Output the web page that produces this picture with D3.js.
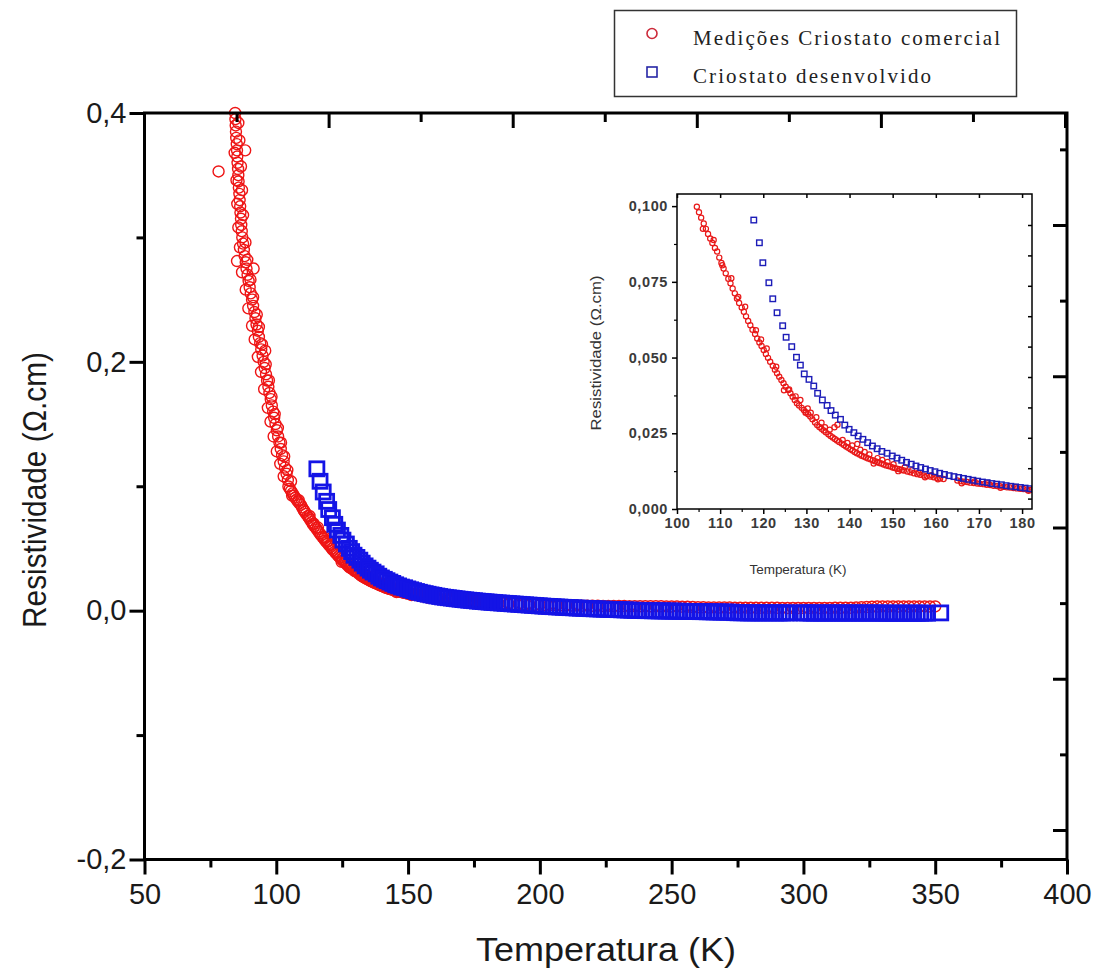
<!DOCTYPE html>
<html><head><meta charset="utf-8">
<script src="https://cdn.jsdelivr.net/npm/d3@7"></script>
<style>
body{margin:0;background:#fff}
svg{display:block}
</style>
</head><body>
<svg id="chart" width="1099" height="974"></svg>
<script>
// ---------- DATA (temperature K, resistivity ohm.cm) ----------
const redSteep = [[78.1,.353],[84.4,.400],[84.5,.395],[84.6,.390],[84.7,.385],[84.8,.380],[85.0,.375],[85.1,.370],[85.2,.365],[85.3,.360],[85.5,.355],[85.6,.350],[85.7,.345],[85.8,.340],[86.0,.335],[86.1,.330],[86.3,.325],[86.4,.320],[86.6,.315],[86.7,.310],[86.9,.305],[87.1,.300],[87.4,.295],[87.7,.290],[88.0,.285],[88.4,.280],[88.7,.275],[89.1,.270],[89.5,.265],[89.9,.260],[90.3,.255],[90.8,.250],[91.2,.245],[91.7,.240],[92.1,.235],[92.5,.230],[93.0,.225],[93.4,.220],[93.9,.215],[94.3,.210],[94.8,.205],[95.2,.200],[95.6,.195],[96.1,.190],[96.5,.185],[97.0,.180],[97.4,.175],[97.9,.170],[98.3,.165],[98.8,.160],[99.2,.155],[99.7,.150],[100.2,.145],[100.7,.140],[101.2,.135],[101.7,.130],[102.2,.125],[102.8,.120],[103.3,.115],[103.9,.110],[104.4,.105],[88.2,.370],[85.1,.281],[91.4,.275],[95.8,.209]];
const redSteepScatter = [[85.6,.392],[86.0,.378],[84.2,.368],[86.6,.357],[84.9,.346],[87.0,.338],[85.2,.327],[87.4,.318],[85.6,.308],[88.3,.296],[86.2,.292],[89.0,.282],[87.0,.272],[90.2,.266],[88.4,.258],[91.2,.252],[89.4,.243],[92.6,.238],[90.8,.229],[93.4,.228],[91.8,.218],[94.6,.214],[93.0,.204],[96.0,.198],[94.2,.192],[97.2,.185],[95.4,.178],[98.2,.172],[96.8,.163],[99.4,.158],[97.8,.152],[100.6,.147],[99.0,.140],[101.8,.135],[100.2,.128],[103.0,.124],[101.5,.118],[104.2,.113],[102.8,.108],[105.6,.104]];
const redMid = [[104.6,.0998],[105.1,.0980],[105.6,.0962],[106.2,.0943],[106.7,.0925],[107.2,.0908],[107.7,.0893],[108.2,.0878],[108.8,.0862],[109.3,.0850],[109.8,.0830],[110.3,.0812],[110.8,.0794],[111.3,.0778],[111.9,.0760],[112.4,.0745],[112.9,.0728],[113.4,.0712],[113.9,.0695],[114.4,.0680],[115.0,.0665],[115.5,.0651],[116.0,.0636],[116.5,.0621],[117.0,.0607],[117.5,.0592],[118.1,.0578],[118.6,.0563],[119.1,.0550],[119.6,.0538],[120.1,.0525],[120.6,.0512],[121.1,.0499],[121.6,.0486],[122.2,.0473],[122.7,.0460],[123.2,.0448],[123.7,.0437],[124.2,.0426],[124.7,.0415],[125.2,.0404],[125.8,.0393],[126.3,.0382],[126.8,.0371],[127.3,.0360],[127.8,.0349],[128.3,.0342],[128.9,.0334],[129.4,.0327],[129.9,.0320],[130.4,.0313],[130.9,.0305],[131.4,.0296],[132.0,.0286],[132.5,.0277],[133.0,.0271],[133.5,.0265],[134.0,.0259],[134.5,.0253],[135.1,.0247],[135.6,.0241],[136.1,.0236],[136.6,.0231],[137.1,.0226],[137.6,.0221],[138.2,.0216],[138.7,.0211],[139.2,.0206],[139.7,.0202],[140.2,.0197],[140.7,.0193],[141.2,.0188],[141.7,.0184],[142.3,.0180],[142.8,.0176],[143.3,.0173],[143.8,.0170],[144.3,.0167],[144.8,.0164],[145.4,.0161],[145.9,.0158],[146.4,.0155],[146.9,.0152],[147.4,.0150],[147.9,.0147],[148.5,.0144],[149.0,.0142],[149.5,.0140],[150.0,.0137],[150.5,.0135],[151.0,.0133],[151.6,.0131],[152.1,.0129],[152.6,.0127],[153.4,.0124],[154.1,.0121],[154.9,.0118],[155.7,.0115],[156.4,.0113],[157.2,.0111],[157.9,.0109],[158.7,.0107],[159.5,.0105],[160.2,.0103],[161.0,.0101],[161.8,.0099],[165.0,.0094],[165.8,.0092],[166.5,.0090],[167.3,.0089],[168.0,.0087],[168.8,.0086],[169.6,.0084],[170.3,.0083],[171.1,.0082],[171.8,.0080],[172.6,.0079],[173.4,.0077],[174.2,.0076],[174.9,.0075],[175.7,.0073],[176.5,.0072],[177.2,.0071],[178.0,.0069],[178.8,.0068],[179.6,.0067],[180.3,.0066],[181.1,.0064],[181.9,.0063],[182.7,.0062]];
const redScatter = [[106.0,.0925],[108.5,.0888],[110.5,.0805],[112.6,.0762],[114.2,.0700],[115.8,.0668],[118.3,.0590],[119.5,.0560],[120.8,.0530],[123.0,.0470],[124.8,.0392],[126.0,.0395],[127.5,.0372],[128.6,.0360],[129.8,.0318],[130.3,.0332],[131.0,.0318],[132.3,.0303],[133.5,.0285],[134.3,.0270],[135.4,.0262],[136.5,.0270],[137.2,.0278],[138.4,.0228],[139.5,.0218],[140.6,.0210],[141.8,.0215],[142.5,.0196],[143.5,.0188],[144.6,.0180],[145.6,.0150],[146.5,.0168],[147.6,.0162],[148.8,.0155],[150.2,.0148],[151.3,.0125],[152.8,.0138],[154.5,.0128],[156.0,.0120],[157.5,.0105],[159.0,.0112],[160.5,.0098],[166.0,.0085],[169.0,.0091],[172.0,.0085],[175.0,.0070],[178.4,.0073],[181.5,.0060]];
const redHigh = [[184,.0060],[186,.0058],[188,.0056],[190,.0054],[192,.0052],[194,.0051],[196,.0049],[198,.0048],[200,.0047],[202,.0046],[204,.0045],[206,.0044],[208,.0043],[210,.0042],[212,.0042],[214,.0041],[216,.0040],[218,.0040],[220,.0039],[222,.0039],[224,.0038],[226,.0038],[228,.0037],[230,.0037],[232,.0037],[234,.0036],[236,.0036],[238,.0036],[240,.0035],[242,.0035],[244,.0035],[246,.0035],[248,.0034],[250,.0034],[252,.0034],[254,.0032],[256,.0031],[258,.0029],[260,.0028],[262,.0027],[264,.0026],[266,.0026],[268,.0025],[270,.0025],[272,.0025],[274,.0024],[276,.0024],[278,.0024],[280,.0024],[282,.0023],[284,.0023],[286,.0023],[288,.0023],[290,.0023],[292,.0022],[294,.0022],[296,.0022],[298,.0022],[300,.0022],[302,.0022],[304,.0022],[306,.0022],[308,.0022],[310,.0022],[312,.0023],[314,.0023],[316,.0023],[318,.0024],[320,.0025],[322,.0027],[324,.0029],[326,.0031],[328,.0033],[330,.0034],[332,.0034],[334,.0034],[336,.0034],[338,.0034],[340,.0034],[342,.0034],[344,.0034],[346,.0034],[348,.0034],[350,.0034]];
const blueLow = [[115.4,.114],[116.6,.104],[117.8,.0954],[119.1,.0879],[119.9,.0813],[121.3,.0747],[122.2,.0694],[123.2,.0648],[124.5,.0605],[125.3,.0567],[126.6,.0536],[127.7,.0501],[128.6,.0475],[129.5,.0446],[130.6,.0428],[131.7,.0406],[132.6,.0382],[133.7,.0360],[134.8,.0342],[135.7,.0325],[136.7,.0310],[137.9,.0296],[138.9,.0277],[139.9,.0263],[141.0,.0252],[142.0,.0241],[143.1,.0230],[144.2,.0219],[145.3,.0208],[146.4,.0199],[147.5,.0190],[148.7,.0184],[149.9,.0175],[151.0,.0168],[152.1,.0161],[153.2,.0154],[154.3,.0148],[155.4,.0142],[156.5,.0137],[157.6,.0132],[158.7,.0127],[159.8,.0123],[160.9,.0118],[162.0,.0114],[163.1,.0110],[164.2,.0107],[165.3,.0104],[166.4,.0101],[167.5,.0098],[168.6,.0095],[169.7,.0092],[170.8,.0089],[171.9,.0087],[173.0,.0084],[174.1,.0082],[175.2,.0080],[176.3,.0077],[177.4,.0075],[178.5,.0073],[179.6,.0071],[180.7,.0069],[181.8,.0067],[182.9,.0065]];
const blueHigh = [[184.2,.0063],[185.5,.0061],[186.8,.0059],[188.1,.0057],[189.4,.0055],[190.7,.0053],[192.0,.0051],[193.3,.0049],[194.6,.0047],[195.9,.0045],[197.2,.0043],[198.5,.0041],[199.8,.0039],[201.1,.0037],[202.4,.0035],[203.7,.0034],[205.0,.0032],[206.3,.0030],[207.6,.0029],[208.9,.0027],[210.2,.0026],[211.5,.0024],[212.8,.0023],[214.1,.0021],[215.4,.0020],[216.7,.0019],[218.0,.0017],[219.3,.0016],[220.6,.0015],[221.9,.0014],[223.2,.0013],[224.5,.0012],[225.8,.0011],[227.1,.0010],[228.4,.0009],[229.7,.0008],[231.0,.0007],[232.3,.0006],[233.6,.0005],[234.9,.0004],[236.2,.0003],[237.5,.0002],[238.8,.0001],[240.1,.0000],[241.4,.0000],[242.7,-.0001],[244.0,-.0001],[245.3,-.0002],[246.6,-.0002],[247.9,-.0003],[249.2,-.0003],[250.5,-.0004],[251.8,-.0004],[253.1,-.0005],[254.4,-.0005],[255.7,-.0006],[257.0,-.0006],[258.3,-.0007],[259.6,-.0007],[260.9,-.0008],[262.2,-.0008],[263.5,-.0009],[264.8,-.0009],[266.1,-.0010],[267.4,-.0010],[268.7,-.0011],[270.0,-.0011],[271.3,-.0012],[272.6,-.0012],[273.9,-.0016],[275.2,-.0017],[276.5,-.0017],[277.8,-.0017],[279.1,-.0018],[280.4,-.0018],[281.7,-.0018],[283.0,-.0018],[284.3,-.0018],[285.6,-.0018],[286.9,-.0018],[288.2,-.0018],[289.5,-.0018],[290.8,-.0018],[292.1,-.0018],[293.4,-.0018],[294.7,-.0018],[299.0,-.0018],[300.3,-.0018],[301.6,-.0018],[302.9,-.0019],[304.2,-.0019],[305.5,-.0019],[306.8,-.0019],[308.1,-.0019],[309.4,-.0019],[310.7,-.0019],[312.0,-.0019],[313.3,-.0019],[314.6,-.0019],[315.9,-.0019],[317.2,-.0019],[318.5,-.0019],[319.8,-.0019],[321.1,-.0019],[322.4,-.0019],[323.7,-.0019],[325.0,-.0019],[326.3,-.0019],[327.6,-.0019],[328.9,-.0019],[330.2,-.0020],[331.5,-.0020],[332.8,-.0020],[334.1,-.0020],[335.4,-.0020],[336.7,-.0020],[338.0,-.0020],[339.3,-.0020],[340.6,-.0020],[341.9,-.0020],[343.2,-.0020],[344.5,-.0020],[345.8,-.0020],[347.1,-.0020],[352.1,-.0018]];

const xTicks = [50,100,150,200,250,300,350,400];
const xMinor = [75,125,175,225,275,325,375];
const yTicks = [-0.2,0,0.2,0.4];
const yMinor = [-0.1,0.1,0.3];
const insetXTicks = [100,110,120,130,140,150,160,170,180];
const insetXMinor = [105,115,125,135,145,155,165,175];
const insetYTicks = [0,0.025,0.05,0.075,0.1];
const insetYMinor = [0.0125,0.0375,0.0625,0.0875];
const legendLabels = ["Medições Criostato comercial","Criostato desenvolvido"];
const xTitle = "Temperatura (K)";
const yTitle = "Resistividade (\u03A9.cm)";

// ---------- SETUP ----------
const SANS = "'Liberation Sans', Arial, sans-serif";
const svg = d3.select("#chart").style("font-family", SANS);
const RED = "#ee1515", BLUE = "#1414e6";
const redAll = redSteep.concat(redSteepScatter, redMid, redScatter, redHigh);
const blueAll = blueLow.concat(blueHigh);

const x = d3.scaleLinear().domain([50,400]).range([144.5,1067]);
const y = d3.scaleLinear().domain([-0.2,0.4]).range([859.5,113]);
// secondary frame scales (ticks only)
const rightS = d3.scaleLinear().domain([0,4]).range([830,225]);
const topS = d3.scaleLinear().domain([0,10]).range([144.5,1065]);

function styleAxis(g, w){
  g.select(".domain").remove();
  g.selectAll(".tick line").attr("stroke","#000").attr("stroke-width",w);
  g.selectAll("text").style("font-family", SANS);
}
const fmt1 = d => d3.format(".1f")(d).replace("\u2212","-").replace(".",",");

// ---------- MAIN DATA ----------
const main = svg.append("g");
main.append("g").selectAll("circle").data(redAll).join("circle")
  .attr("cx", d => x(d[0])).attr("cy", d => y(d[1])).attr("r", 5.5)
  .attr("fill","none").attr("stroke",RED).attr("stroke-width",1.4);
const sq = 14;
main.append("g").selectAll("rect").data(blueAll).join("rect")
  .attr("x", d => x(d[0]) - sq/2).attr("y", d => y(d[1]) - sq/2)
  .attr("width", sq).attr("height", sq)
  .attr("fill","none").attr("stroke",BLUE).attr("stroke-width",2.8);

// ---------- MAIN AXES ----------
svg.append("rect").attr("x",144.5).attr("y",113).attr("width",1067-144.5).attr("height",859.5-113)
  .attr("fill","none").attr("stroke","#000").attr("stroke-width",3);

const gL = svg.append("g").attr("transform","translate(144.5,0)")
  .call(d3.axisLeft(y).tickValues(yTicks).tickSize(15).tickPadding(3).tickFormat(fmt1));
styleAxis(gL,3);
gL.selectAll("text").attr("font-size",29).attr("fill","#1a1a1a");
const gLm = svg.append("g").attr("transform","translate(144.5,0)")
  .call(d3.axisLeft(y).tickValues(yMinor).tickSize(8).tickFormat(""));
styleAxis(gLm,3);

const gB = svg.append("g").attr("transform","translate(0,859.5)")
  .call(d3.axisBottom(x).tickValues(xTicks).tickSize(15).tickPadding(9).tickFormat(d3.format("d")));
styleAxis(gB,3);
gB.selectAll("text").attr("font-size",29).attr("fill","#1a1a1a");
const gBm = svg.append("g").attr("transform","translate(0,859.5)")
  .call(d3.axisBottom(x).tickValues(xMinor).tickSize(8).tickFormat(""));
styleAxis(gBm,3);

const gR = svg.append("g").attr("transform","translate(1067,0)")
  .call(d3.axisLeft(rightS).tickValues([0,1,2,3,4]).tickSize(14).tickFormat(""));
styleAxis(gR,3);
const gRm = svg.append("g").attr("transform","translate(1067,0)")
  .call(d3.axisLeft(rightS).tickValues([0.5,1.5,2.5,3.5,4.5]).tickSize(7).tickFormat(""));
styleAxis(gRm,3);

const gT = svg.append("g").attr("transform","translate(0,113)")
  .call(d3.axisBottom(topS).tickValues([2,4,6,8,10]).tickSize(15).tickFormat(""));
styleAxis(gT,3);
const gTm = svg.append("g").attr("transform","translate(0,113)")
  .call(d3.axisBottom(topS).tickValues([1,3,5,7,9]).tickSize(9).tickFormat(""));
styleAxis(gTm,3);

svg.append("text").attr("x",606).attr("y",961).attr("text-anchor","middle")
  .attr("font-size",34).attr("fill","#1a1a1a").attr("textLength",260).attr("lengthAdjust","spacingAndGlyphs").text(xTitle);
svg.append("text").attr("transform","translate(46,490) rotate(-90)").attr("text-anchor","middle")
  .attr("font-size",33).attr("fill","#1a1a1a").attr("textLength",276).attr("lengthAdjust","spacingAndGlyphs").text(yTitle);

// ---------- INSET ----------
const ix = d3.scaleLinear().domain([100,182.3]).range([677,1032]);
const iy = d3.scaleLinear().domain([0,0.104]).range([509,194]);
const irS = d3.scaleLinear().domain([0,9]).range([225,498.6]);
const inset = svg.append("g");
svg.append("clipPath").attr("id","insetClip").append("rect")
  .attr("x",677).attr("y",194).attr("width",355).attr("height",315);
const idata = inset.append("g").attr("clip-path","url(#insetClip)");
idata.append("g").selectAll("circle").data(redAll.filter(d => d[0] >= 99 && d[0] <= 184 && d[1] <= 0.1005)).join("circle")
  .attr("cx", d => ix(d[0])).attr("cy", d => iy(d[1])).attr("r", 2.6)
  .attr("fill","none").attr("stroke","#e81818").attr("stroke-width",1.2);
const isq = 5.5;
idata.append("g").selectAll("rect").data(blueAll.filter(d => d[0] >= 99 && d[0] <= 185 && d[1] <= 0.1)).join("rect")
  .attr("x", d => ix(d[0]) - isq/2).attr("y", d => iy(d[1]) - isq/2)
  .attr("width", isq).attr("height", isq)
  .attr("fill","none").attr("stroke","#1c1cb8").attr("stroke-width",1.4);

inset.append("rect").attr("x",677).attr("y",194).attr("width",355).attr("height",315)
  .attr("fill","none").attr("stroke","#000").attr("stroke-width",1.5);
const fmt3 = d => d3.format(".3f")(d).replace(".",",");
const iL = inset.append("g").attr("transform","translate(677,0)")
  .call(d3.axisLeft(iy).tickValues(insetYTicks).tickSize(5).tickPadding(4).tickFormat(fmt3));
styleAxis(iL,1.5);
const iLm = inset.append("g").attr("transform","translate(677,0)")
  .call(d3.axisLeft(iy).tickValues(insetYMinor).tickSize(3).tickFormat(""));
styleAxis(iLm,1.2);
const iB = inset.append("g").attr("transform","translate(0,509)")
  .call(d3.axisBottom(ix).tickValues(insetXTicks).tickSize(5).tickPadding(4).tickFormat(d3.format("d")));
styleAxis(iB,1.5);
const iBm = inset.append("g").attr("transform","translate(0,509)")
  .call(d3.axisBottom(ix).tickValues(insetXMinor).tickSize(3).tickFormat(""));
styleAxis(iBm,1.2);
const iR = inset.append("g").attr("transform","translate(1032,0)")
  .call(d3.axisLeft(irS).tickValues(d3.range(0,10)).tickSize(4).tickFormat(""));
styleAxis(iR,1.5);
const iT = inset.append("g").attr("transform","translate(0,194)")
  .call(d3.axisBottom(ix).tickValues(insetXTicks).tickSize(4).tickFormat(""));
styleAxis(iT,1.5);
inset.selectAll("g.tick text").attr("font-size",14.5).attr("font-weight","bold")
  .attr("fill","#3a3a3a").attr("letter-spacing",0.6);

inset.append("text").attr("x",798).attr("y",574).attr("text-anchor","middle")
  .attr("font-size",13.5).attr("fill","#333").attr("textLength",97).attr("lengthAdjust","spacing").text(xTitle);
inset.append("text").attr("transform","translate(601,353) rotate(-90)").attr("text-anchor","middle")
  .attr("font-size",14.5).attr("fill","#333").attr("textLength",155).attr("lengthAdjust","spacingAndGlyphs").text(yTitle);

// ---------- LEGEND ----------
const leg = svg.append("g");
leg.append("rect").attr("x",614.5).attr("y",10.5).attr("width",402).attr("height",86)
  .attr("fill","#fff").attr("stroke","#333").attr("stroke-width",1.5);
leg.append("circle").attr("cx",652).attr("cy",33.5).attr("r",5)
  .attr("fill","none").attr("stroke","#cc2a3a").attr("stroke-width",1.6);
leg.append("rect").attr("x",647).attr("y",67).attr("width",10).attr("height",10)
  .attr("fill","none").attr("stroke","#2626a6").attr("stroke-width",1.6);
leg.selectAll("text.lg").data(legendLabels).join("text").attr("class","lg")
  .attr("x",693).attr("y",(d,i) => 45 + i*38)
  .style("font-family","'Liberation Serif','DejaVu Serif',serif").attr("font-size",21)
  .attr("fill","#222").attr("textLength",(d,i) => i === 0 ? 307 : 238).attr("lengthAdjust","spacing")
  .text(d => d);
</script>
</body></html>
